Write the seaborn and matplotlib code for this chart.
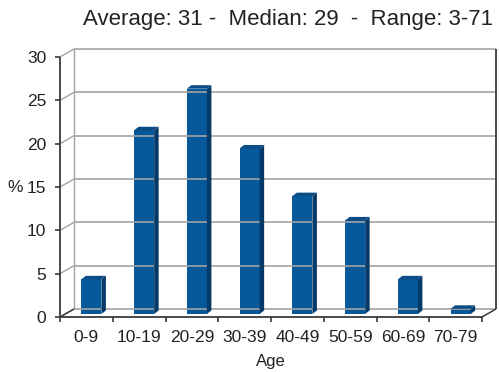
import matplotlib
matplotlib.use("Agg")
import matplotlib.pyplot as plt
import matplotlib.transforms as mtransforms
from matplotlib.patches import Polygon
from matplotlib.lines import Line2D
import seaborn as sns
import pandas as pd

# Share of cases per age group (%)
age_groups = ["0-9", "10-19", "20-29", "30-39", "40-49", "50-59", "60-69", "70-79"]
percent = [4.0, 21.2, 26.0, 19.1, 13.6, 10.8, 4.0, 0.6]
y_ticks = [0, 5, 10, 15, 20, 25, 30]
title = "Average: 31 -  Median: 29  -  Range: 3-71"

sns.set_theme(style="white")
plt.rcParams["font.family"] = ["Liberation Sans", "DejaVu Sans"]

W, H, DPI = 499, 372, 100
FRONT = "#05589a"
SIDE = "#053a68"
TOP = "#0b4c84"
GRID = "#a3a3a3"
AXIS = "#3a3a3a"
TEXT = "#222222"

fig = plt.figure(figsize=(W / DPI, H / DPI), dpi=DPI)
fig.patch.set_facecolor("white")
ax = fig.add_axes([60 / W, 55 / H, 422 / W, 260 / H])
ax.set_facecolor("none")

df = pd.DataFrame({"Age": age_groups, "Percent": percent})
sns.barplot(data=df, x="Age", y="Percent", color=FRONT, saturation=1,
            width=0.38, ax=ax, zorder=3)

ax.set_xlim(-0.5, len(age_groups) - 0.5)
ax.set_ylim(0, 30)
for s in ax.spines.values():
    s.set_visible(False)

# depth of the box (wall offset) and of the bars, in pixels
WALL = (14, 8)
BAR_POS = (5, 3)
BAR_DEPTH = (4.5, 3.5)

def px(x, y, off=(0, 0)):
    X, Y = ax.transData.transform((x, y))
    return X + off[0], Y + off[1]

def seg(p, q, color, lw, z=1):
    line = Line2D([p[0], q[0]], [p[1], q[1]], color=color, lw=lw,
                  transform=mtransforms.IdentityTransform(), zorder=z,
                  solid_capstyle="butt")
    fig.add_artist(line)

x0, x1 = ax.get_xlim()
# back wall gridlines and left-wall diagonals
for t in y_ticks:
    seg(px(x0, t, WALL), px(x1, t, WALL), GRID, 1.2)
    seg(px(x0, t), px(x0, t, WALL), GRID, 1.0)
seg(px(x0, 0, WALL), px(x0, 30, WALL), GRID, 1.0)
# right edge of the back wall and floor
seg(px(x1, 0, WALL), px(x1, 30, WALL), AXIS, 1.3)
seg(px(x1, 0), px(x1, 0, WALL), AXIS, 1.1)
seg(px(x0, 0), px(x0, 0, WALL), AXIS, 1.1)
# front axes
seg(px(x0, 0), px(x1, 0), AXIS, 1.3, 2)
seg(px(x0, 0), px(x0, 30), AXIS, 1.3, 2)
for t in y_ticks:
    a = px(x0, t)
    seg((a[0] - 5, a[1]), a, AXIS, 1.2, 2)
for i in range(len(age_groups) + 1):
    a = px(x0 + i, 0)
    seg(a, (a[0], a[1] - 5), AXIS, 1.2, 2)

# extrude each bar into a box
shift = mtransforms.ScaledTranslation(BAR_POS[0] / DPI, BAR_POS[1] / DPI,
                                      fig.dpi_scale_trans)
for bar in ax.patches:
    bx, bw, bh = bar.get_x(), bar.get_width(), bar.get_height()
    bar.set_transform(ax.transData + shift)
    bar.set_edgecolor("none")
    bar.set_linewidth(0)
    bar.set_zorder(4)
    fl = px(bx, 0, BAR_POS)
    fr = px(bx + bw, 0, BAR_POS)
    tl = px(bx, bh, BAR_POS)
    tr = px(bx + bw, bh, BAR_POS)
    dx, dy = BAR_DEPTH
    side = Polygon([fr, tr, (tr[0] + dx, tr[1] + dy), (fr[0] + dx, fr[1] + dy)],
                   closed=True, facecolor=SIDE, edgecolor="none",
                   transform=mtransforms.IdentityTransform(), zorder=4)
    top = Polygon([tl, tr, (tr[0] + dx, tr[1] + dy), (tl[0] + dx, tl[1] + dy)],
                  closed=True, facecolor=TOP, edgecolor="none",
                  transform=mtransforms.IdentityTransform(), zorder=4)
    fig.add_artist(side)
    fig.add_artist(top)

ax.set_yticks(y_ticks)
ax.set_yticklabels([str(t) for t in y_ticks])
ax.tick_params(axis="both", length=0, labelsize=12.5, colors=TEXT)
ax.tick_params(axis="y", pad=10)
ax.tick_params(axis="x", pad=9)
ax.set_xlabel("Age", fontsize=12, color=TEXT, labelpad=7)
ax.set_ylabel("%", fontsize=12.5, color=TEXT, rotation=0, ha="right", va="center")
ax.yaxis.set_label_coords(-0.088, 0.5)

fig.text(288 / W, 1 - 20 / H, title, ha="center", va="center",
         fontsize=16, color=TEXT)

fig.savefig("out.png", dpi=DPI, facecolor="white")
